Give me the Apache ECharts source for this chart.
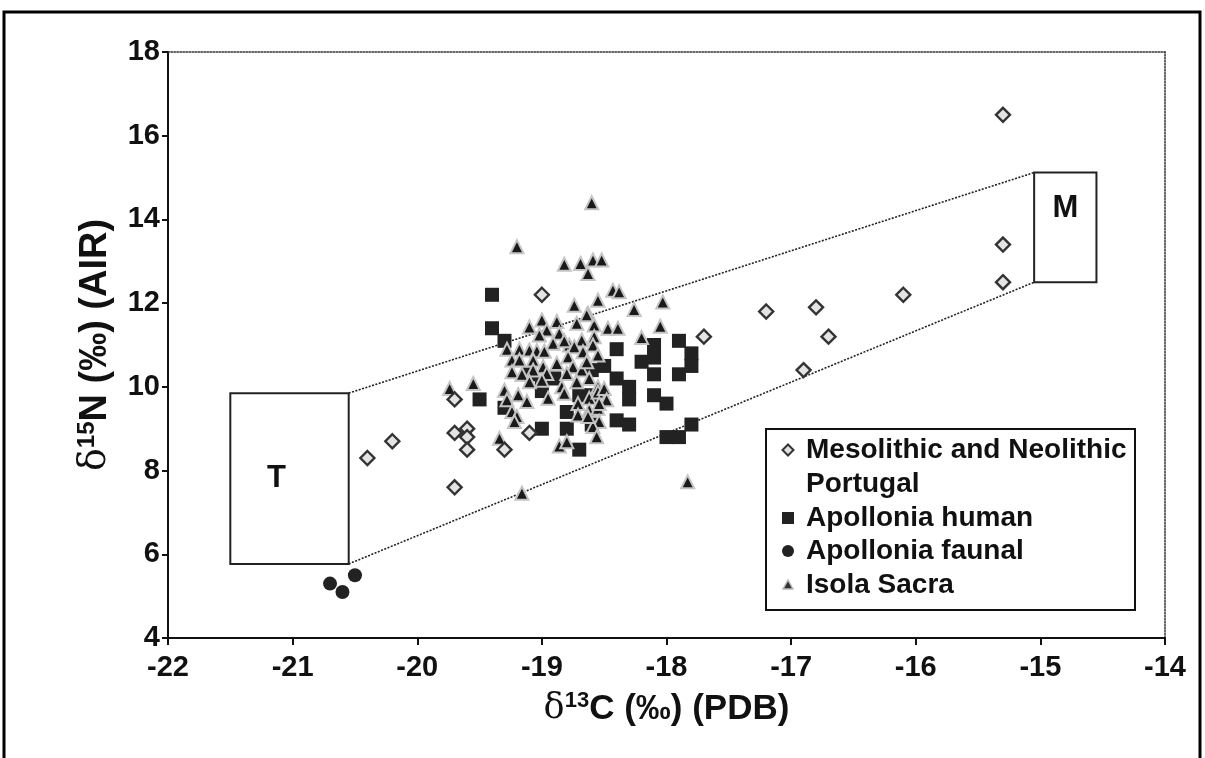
<!DOCTYPE html>
<html><head><meta charset="utf-8">
<script src="https://cdn.jsdelivr.net/npm/echarts@6/dist/echarts.min.js"></script>
<style>html,body{margin:0;padding:0;background:#fff}#c{width:1205px;height:758px}</style>
</head><body><div id="c"></div><script>
// ---- data ----
const xMin = -22, xMax = -14, xStep = 1;
const yMin = 4, yMax = 18, yStep = 2;

const seriesNames = ['Mesolithic and Neolithic Portugal', 'Apollonia human', 'Apollonia faunal', 'Isola Sacra'];

const portugal = [
  [-15.3,16.5],[-15.3,13.4],[-15.3,12.5],[-16.1,12.2],[-16.8,11.9],[-16.7,11.2],[-16.9,10.4],
  [-17.2,11.8],[-17.7,11.2],[-19.0,12.2],[-20.4,8.3],[-20.2,8.7],[-19.7,9.7],[-19.7,8.9],
  [-19.6,9.0],[-19.6,8.8],[-19.6,8.5],[-19.7,7.6],[-19.3,8.5],[-19.1,8.9]
];

const apolloniaHuman = [
  [-19.4,12.2],[-19.4,11.4],[-19.3,11.1],[-19.5,9.7],[-19.3,9.5],[-19.0,9.0],[-18.8,9.4],[-18.8,9.0],
  [-18.7,8.5],[-18.6,9.1],[-18.4,9.2],[-18.3,9.1],[-18.4,10.9],[-18.4,10.2],[-18.3,10.0],[-18.3,9.7],
  [-18.2,10.6],[-18.1,11.0],[-18.1,10.7],[-18.1,10.3],[-18.1,9.8],[-18.0,9.6],[-17.9,11.1],[-17.8,10.8],
  [-17.8,10.5],[-17.9,10.3],[-18.0,8.8],[-17.9,8.8],[-17.8,9.1],[-19.1,10.3],[-19.0,10.1],[-18.9,10.2],
  [-19.0,9.9],[-18.7,9.8],[-18.6,9.8],[-18.5,10.5],[-18.6,10.4]
];

const apolloniaFaunal = [[-20.7,5.3],[-20.6,5.1],[-20.5,5.5]];

const isolaSacra = [
  [-18.6,14.4],[-19.2,13.35],
  [-18.82,12.93],[-18.69,12.95],[-18.63,12.71],[-18.59,13.03],[-18.52,13.03],
  [-18.43,12.31],[-18.38,12.27],[-18.55,12.07],[-18.03,12.03],[-18.74,11.95],[-18.26,11.85],[-18.63,11.76],
  [-18.58,11.48],[-18.47,11.4],[-18.39,11.4],[-18.05,11.45],[-18.2,11.18],[-18.58,11.2],[-18.59,11.0],
  [-19.1,11.43],[-19.0,11.6],[-18.88,11.56],[-18.72,11.52],[-18.64,11.72],[-18.96,11.36],[-18.86,11.28],[-19.02,11.24],
  [-19.28,10.9],[-19.18,10.9],[-19.1,10.88],[-18.91,11.04],[-18.78,11.0],[-18.68,11.12],
  [-19.04,10.86],[-18.98,10.85],[-18.82,11.1],[-18.74,10.96],[-18.67,10.84],[-18.55,10.76],
  [-19.24,10.64],[-19.18,10.64],[-19.07,10.64],[-18.99,10.48],[-18.88,10.56],[-18.79,10.72],[-18.75,10.48],[-18.68,10.4],[-18.64,10.6],
  [-19.24,10.36],[-19.07,10.4],[-18.96,10.32],[-18.8,10.32],[-19.16,10.3],
  [-19.0,10.16],[-18.84,10.0],[-18.72,10.12],[-18.62,10.2],[-18.55,10.0],[-19.1,10.12],
  [-19.3,9.92],[-19.28,9.69],[-19.19,9.81],[-19.12,9.65],[-18.95,9.73],[-18.82,9.85],[-18.71,9.6],[-18.62,9.73],
  [-18.55,9.88],[-18.5,9.96],[-18.48,9.69],
  [-19.24,9.41],[-19.2,9.29],[-19.22,9.17],[-18.71,9.33],[-18.62,9.45],[-18.55,9.49],[-18.54,9.17],[-18.59,9.05],
  [-19.34,8.77],[-18.86,8.59],[-18.8,8.69],[-18.56,8.81],[-18.54,9.6],[-18.63,9.29],
  [-19.74,9.96],[-19.55,10.08],
  [-17.83,7.73],[-19.16,7.46]
];

// T (terrestrial) and M (marine) end-member boxes
const boxLabels = ['T', 'M'];
const boxX0 = [-21.5, -15.05];
const boxX1 = [-20.55, -14.55];
const boxY0 = [5.77, 12.5];
const boxY1 = [9.85, 15.12];
const boxTextX = [-21.13, -14.8];
const boxTextY = [7.8, 14.27];

// ---- chart ----
const FONT = '"Liberation Sans", Arial, sans-serif';
const chart = echarts.init(document.getElementById('c'));

const lineTop = [[boxX1[0], boxY1[0]], [boxX0[1], boxY1[1]]];
const lineBottom = [[boxX1[0], boxY0[0]], [boxX0[1], boxY0[1]]];

function nameRich(size) {
  return {
    d: {fontFamily: '"DejaVu Serif", serif', fontSize: size, color: '#111'},
    s: {fontFamily: FONT, fontWeight: 'bold', fontSize: Math.round(size * 0.62), color: '#111', verticalAlign: 'top', padding: [0, 0, Math.round(size * 0.45), 0]},
    b: {fontFamily: FONT, fontWeight: 'bold', fontSize: size, color: '#111'}
  };
}

// legend drawn as graphic (first entry wraps onto two lines)
const LX = 766, LY = 429, LW = 369, LH = 181, MX = 788, TX = 806;
const lineYs = [450, 484, 518, 551, 585];
const legendGraphic = [
  {type: 'rect', z: 100, shape: {x: LX, y: LY, width: LW, height: LH}, style: {fill: '#fff', stroke: '#111', lineWidth: 2}},
  {type: 'polygon', z: 101, shape: {points: [[MX, lineYs[0]-5.5],[MX+5.5, lineYs[0]],[MX, lineYs[0]+5.5],[MX-5.5, lineYs[0]]]}, style: {fill: '#e0e0e0', stroke: '#333', lineWidth: 2}},
  {type: 'rect', z: 101, shape: {x: MX-6, y: lineYs[2]-6, width: 12, height: 12}, style: {fill: '#222'}},
  {type: 'circle', z: 101, shape: {cx: MX, cy: lineYs[3], r: 6}, style: {fill: '#222'}},
  {type: 'polygon', z: 101, shape: {points: [[MX, lineYs[4]-5],[MX+5, lineYs[4]+4],[MX-5, lineYs[4]+4]]}, style: {fill: '#333', stroke: '#bbb', lineWidth: 1.5}}
];
const legendTexts = [seriesNames[0].replace(' Portugal', ''), 'Portugal', seriesNames[1], seriesNames[2], seriesNames[3]];
legendTexts.forEach((t, i) => legendGraphic.push({
  type: 'text', z: 101, style: {text: t, x: TX, y: lineYs[i], verticalAlign: 'middle', align: 'left',
    font: 'bold 28px ' + FONT, fill: '#111'}
}));

const option = {
  animation: false,
  backgroundColor: '#fff',
  grid: {left: 168, right: 40, top: 52, bottom: 120},
  xAxis: [{
    type: 'value', min: xMin, max: xMax, interval: xStep, position: 'bottom',
    axisLine: {onZero: false, lineStyle: {color: '#111', width: 2}},
    axisTick: {show: true, length: 7, lineStyle: {color: '#111', width: 2}},
    splitLine: {show: false},
    axisLabel: {color: '#111', fontFamily: FONT, fontWeight: 'bold', fontSize: 29, margin: 15},
    name: '{d|δ}{s|13}{b|C (‰) (PDB)}', nameLocation: 'middle', nameGap: 52,
    nameTextStyle: {rich: nameRich(35)}
  }, {
    type: 'value', min: xMin, max: xMax, position: 'top',
    axisLine: {onZero: false, lineStyle: {color: '#333', width: 1.5, type: 'dotted'}},
    axisTick: {show: false}, axisLabel: {show: false}, splitLine: {show: false}
  }],
  yAxis: [{
    type: 'value', min: yMin, max: yMax, interval: yStep, position: 'left',
    axisLine: {onZero: false, lineStyle: {color: '#111', width: 2}},
    axisTick: {show: true, length: 6, lineStyle: {color: '#111', width: 2}},
    splitLine: {show: false},
    axisLabel: {color: '#111', fontFamily: FONT, fontWeight: 'bold', fontSize: 29, margin: 8},
    name: '{d|δ}{s|15}{b|N (‰) (AIR)}', nameLocation: 'middle', nameGap: 52, nameRotate: 90,
    nameTextStyle: {rich: nameRich(38)}
  }, {
    type: 'value', min: yMin, max: yMax, position: 'right',
    axisLine: {onZero: false, lineStyle: {color: '#333', width: 1.5, type: 'dotted'}},
    axisTick: {show: false}, axisLabel: {show: false}, splitLine: {show: false}
  }],
  graphic: [
    {type: 'rect', silent: true, z: -1, shape: {x: 4, y: 12, width: 1196, height: 800}, style: {fill: 'none', stroke: '#000', lineWidth: 3}}
  ].concat(legendGraphic),
  series: [
    {type: 'line', data: lineTop, symbol: 'none', silent: true, z: 1,
     lineStyle: {color: '#222', width: 1.6, type: [2, 1.5]}},
    {type: 'line', data: lineBottom, symbol: 'none', silent: true, z: 1,
     lineStyle: {color: '#222', width: 1.6, type: [2, 1.5]}},
    {type: 'custom', z: 2, silent: true,
     data: boxLabels.map((l, i) => [boxX0[i], boxY0[i], boxX1[i], boxY1[i], boxTextX[i], boxTextY[i]]),
     encode: {x: [0, 2], y: [1, 3]},
     renderItem: (params, api) => {
       const p0 = api.coord([api.value(0), api.value(3)]);
       const p1 = api.coord([api.value(2), api.value(1)]);
       const t = api.coord([api.value(4), api.value(5)]);
       return {type: 'group', children: [
         {type: 'rect', shape: {x: p0[0], y: p0[1], width: p1[0] - p0[0], height: p1[1] - p0[1]},
          style: {fill: '#fff', stroke: '#222', lineWidth: 2}},
         {type: 'text', style: {text: boxLabels[params.dataIndex], x: t[0], y: t[1], align: 'center', verticalAlign: 'middle',
          font: 'bold 31px ' + FONT, fill: '#111'}}
       ]};
     }},
    {name: seriesNames[1], type: 'scatter', data: apolloniaHuman, symbol: 'rect', symbolSize: 14, z: 3,
     itemStyle: {color: '#222', opacity: 1}},
    {name: seriesNames[2], type: 'scatter', data: apolloniaFaunal, symbol: 'circle', symbolSize: 14, z: 3,
     itemStyle: {color: '#222', opacity: 1}},
    {name: seriesNames[3], type: 'scatter', data: isolaSacra, symbol: 'triangle', symbolSize: 13, z: 4,
     itemStyle: {color: '#1a1a1a', borderColor: '#c4c4c4', borderWidth: 2, opacity: 1}},
    {name: seriesNames[0], type: 'scatter', data: portugal, symbol: 'diamond', symbolSize: 14, z: 5,
     itemStyle: {color: '#e4e4e4', borderColor: '#333', borderWidth: 2.4, opacity: 1}}
  ]
};
chart.setOption(option);
</script></body></html>
